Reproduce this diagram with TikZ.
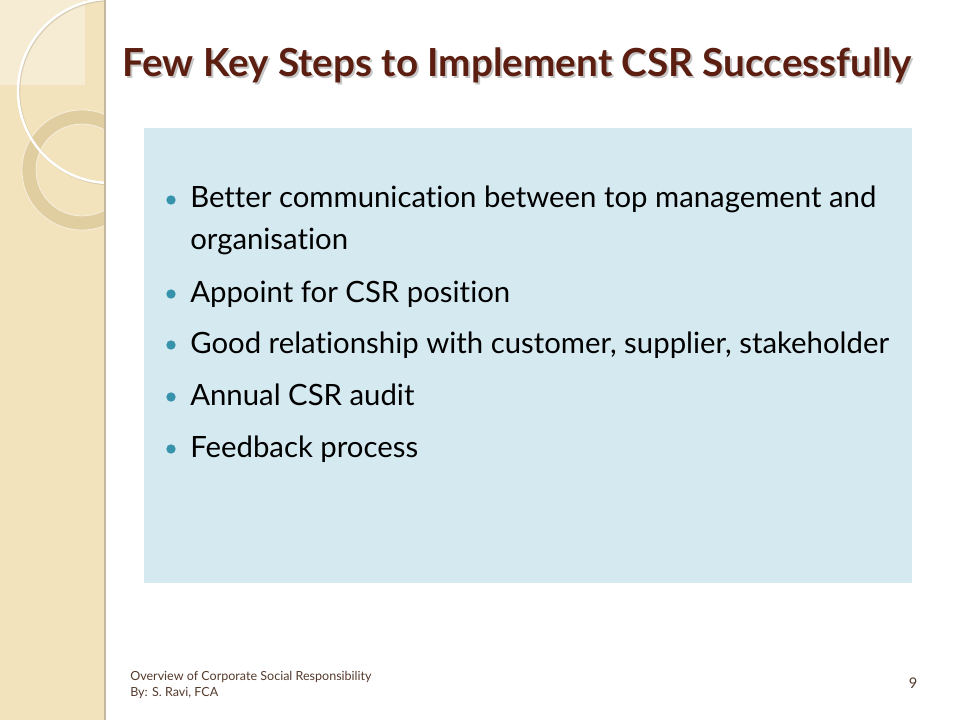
\documentclass[tikz,border=0pt]{standalone}
\usepackage{fontspec}
\setmainfont{Lato}[Ligatures=NoCommon]
\usetikzlibrary{calc}
\definecolor{stripbeige}{RGB}{242,227,188}
\definecolor{stripedge}{RGB}{196,184,160}
\definecolor{ringtan}{RGB}{222,202,156}
\definecolor{boxblue}{RGB}{213,233,240}
\definecolor{titlebrown}{RGB}{92,30,16}
\definecolor{dotteal}{RGB}{55,146,172}
\definecolor{footbrown}{RGB}{84,58,44}

\begin{document}
\begin{tikzpicture}[x=.75pt, y=-.75pt,
    titletext/.style={font=\bfseries\fontsize{29}{34}\selectfont, anchor=base},
    itemtext/.style={font=\fontsize{22}{26}\selectfont, anchor=base west, inner sep=0},
    bulletdot/.style={circle, fill=dotteal, inner sep=0, minimum size=7pt},
    foottext/.style={font=\fontsize{9.4}{11}\selectfont, text=footbrown, anchor=base west, inner sep=0}]
    \useasboundingbox (0,0) rectangle (960,720);
    % side strip with rings
    \fill[stripbeige] (0,0) rectangle (104,720);
    \begin{scope}
    \clip (0,0) rectangle (104,720);
    \fill[white, opacity=.35] (0,0) rectangle (85,85);
    \fill[ringtan, opacity=.85, even odd rule] (82,170) circle (60) (82,170) circle (46);
    \draw[white, opacity=.6, line width=.6pt] (82,170) circle (60) (82,170) circle (46);
    \draw[stripedge, opacity=.6, line width=1.8pt] (111,92) circle (92);
    \draw[white, line width=1.8pt] (110,91) circle (92);
    \end{scope}
    \draw[stripedge, line width=1.5pt] (105,0) -- (105,720);
    % title
    \node[titletext, gray, opacity=.45](titleshadow) at (519,79) {Few Key Steps to Implement CSR Successfully};
    \node[titletext, titlebrown](title) at (517,77) {Few Key Steps to Implement CSR Successfully};
    % content box
    \fill[boxblue] (144,128) rectangle (912,583);
    \foreach \y/\t [count=\i] in {208/{Better communication between top management and}, 302/{Appoint for CSR position}, 353/{Good relationship with customer, supplier, stakeholder}, 405/{Annual CSR audit}, 457/{Feedback process}}
    {\node[bulletdot](dot\i) at (171,{\y-8}) {};
    \node[itemtext](item\i) at (190,\y) {\t};}
    \node[itemtext](item1b) at (190,250) {organisation};
    % footer
    \node[foottext](foot1) at (130,680) {Overview of Corporate Social Responsibility};
    \node[foottext](foot2) at (130,696) {By: S. Ravi, FCA};
    \node[foottext, anchor=base, font=\fontsize{11}{13}\selectfont](pagenum) at (913,688) {9};
\end{tikzpicture}
\end{document}
